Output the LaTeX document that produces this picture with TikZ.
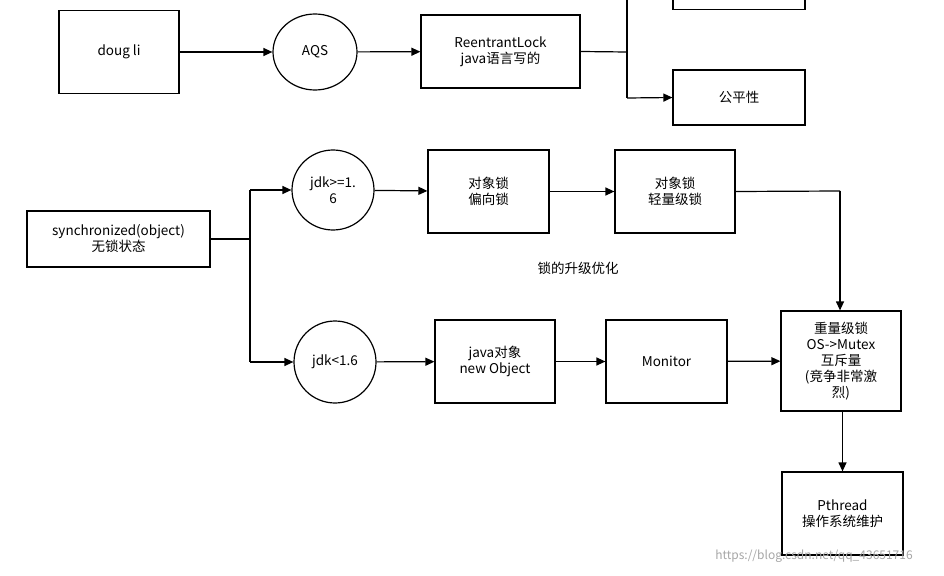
\documentclass[tikz,border=0pt]{standalone}
\usepackage{fontspec}
\setmainfont{Noto Sans CJK SC}
\usetikzlibrary{arrows.meta,shapes.geometric}
\begin{document}
\begin{tikzpicture}[x=1pt,y=-1pt,
  box/.style={draw,line width=1.2pt,minimum width=#1,align=center,font=\fontsize{13.5}{16}\selectfont,inner sep=1pt},
  circ/.style={draw,line width=1.2pt,ellipse,align=center,font=\fontsize{13.5}{16}\selectfont,inner sep=0pt},
  ln/.style={line width=1.2pt},
  ar/.style={line width=1.2pt,-{Triangle[length=9pt,width=8pt]}}]
\useasboundingbox (0,0) rectangle (944,575);
\node[box=120pt,minimum height=83pt] (doug) at (119,52) {doug li};
\node[circ,minimum width=84pt,minimum height=76pt] (aqs) at (315,52) {AQS};
\node[box=159pt,minimum height=73pt] (rl) at (500.5,51.5) {ReentrantLock\\java语言写的};
\node[box=132pt,minimum height=30pt,anchor=south] (top) at (739,10) {};
\node[box=132pt,minimum height=55pt] (fair) at (739,97.5) {公平性};
\coordinate (j1) at (627,52);
\coordinate (j0) at (627,0);
\coordinate (j2) at (627,98);
\draw[ar] (doug) -- (aqs);
\draw[ar] (aqs) -- (rl);
\draw[ln] (rl.east) -- (j1);
\draw[ln] (j0) -- (j2);
\draw[ar] (j2) -- (fair.west);

\node[box=183pt,minimum height=56pt] (sync) at (118.5,239) {synchronized(object)\\无锁状态};
\node[circ,minimum width=82pt,minimum height=80pt] (jg) at (333,190) {jdk>=1.\\6};
\node[circ,minimum width=82pt,minimum height=82pt] (jl) at (335,362) {jdk<1.6};
\node[box=121pt,minimum height=83pt] (pb) at (488.5,191.5) {对象锁\\偏向锁};
\node[box=120pt,minimum height=83pt] (qb) at (675,191.5) {对象锁\\轻量级锁};
\node[box=120pt,minimum height=83pt] (jo) at (495,361.5) {java对象\\new Object};
\node[box=121pt,minimum height=83pt] (mon) at (666.5,361.5) {Monitor};
\node[box=120pt,minimum height=100pt] (heavy) at (841,361) {重量级锁\\OS->Mutex\\互斥量\\(竞争非常激\\烈)};
\node[box=121pt,minimum height=83pt] (pt) at (842.5,513.5) {Pthread\\操作系统维护};
\node[font=\fontsize{13.5}{16}\selectfont] (lbl) at (578,268) {锁的升级优化};
\node[font=\fontsize{12}{14}\selectfont,text=gray!70] (wm) at (814,556) {https://blog.csdn.net/qq\_43651716};

\coordinate (s1) at (250,239);
\coordinate (s2) at (250,190);
\coordinate (s3) at (250,362);
\coordinate (h1) at (840,191);
\draw[ln] (sync.east) -- (s1);
\draw[ln] (s2) -- (s3);
\draw[ar] (s2) -- (jg.west);
\draw[ar] (s3) -- (jl.west);
\draw[ar] (jg) -- (pb);
\draw[ar] (pb) -- (qb);
\draw[ln] (qb.east) -- (h1);
\draw[ar] (h1) -- (heavy.north -| h1);
\draw[ar] (jl) -- (jo);
\draw[ar] (jo) -- (mon);
\draw[ar] (mon) -- (heavy);
\draw[ar] (heavy.south -| pt.north) -- (pt.north);
\end{tikzpicture}
\end{document}
